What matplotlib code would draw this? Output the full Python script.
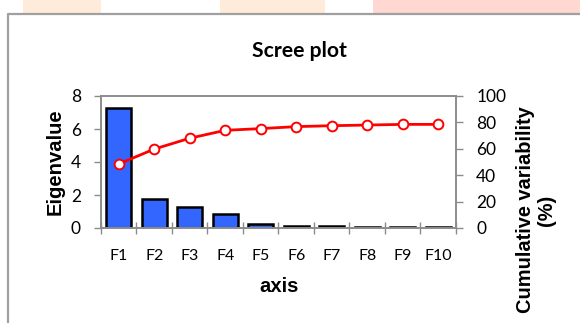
import matplotlib
matplotlib.use("Agg")
import matplotlib.pyplot as plt
from matplotlib.patches import Rectangle
from matplotlib.lines import Line2D
import numpy as np

# Principal axes, their eigenvalues and cumulative variability (%)
factors = ["F1", "F2", "F3", "F4", "F5", "F6", "F7", "F8", "F9", "F10"]
eigenvalues = [7.3, 1.75, 1.27, 0.87, 0.22, 0.15, 0.12, 0.08, 0.05, 0.04]
cumulative = [48.5, 59.8, 68.0, 74.0, 75.3, 76.8, 77.5, 78.0, 78.5, 78.5]
left_ticks = [0, 2, 4, 6, 8]
right_ticks = [0, 20, 40, 60, 80, 100]

W, H = 580, 323
fig = plt.figure(figsize=(W / 100, H / 100), dpi=100)
fig.patch.set_facecolor("white")

# page strip above the chart frame
for x0, x1, col in [(23, 101, "#FFEBD9"), (220, 325, "#FFEBD9"), (373, 580, "#FFD9D1")]:
    fig.patches.append(Rectangle((x0 / W, 1 - 13 / H), (x1 - x0) / W, 13 / H,
                                 transform=fig.transFigure, color=col, lw=0, zorder=0))
# chart frame
fig.lines.append(Line2D([8 / W, 8 / W, 1.0], [0, 1 - 13.5 / H, 1 - 13.5 / H],
                        transform=fig.transFigure, color="#A0A0A0", lw=1.6))

tick_font = "Lato"
label_font = "Liberation Sans"
grey = "#8C8C8C"

ax = fig.add_axes([101 / W, 1 - 228 / H, (456 - 101) / W, (228 - 96) / H])
x = np.arange(len(factors))
ax.bar(x, eigenvalues, width=0.7, color="#3366FF", edgecolor="black", linewidth=1.8, zorder=2)
ax.set_xlim(-0.5, len(factors) - 0.5)
ax.set_ylim(0, 8)
ax.set_yticks(left_ticks)
ax.set_xticks(np.arange(-0.5, len(factors), 1.0))
ax.set_xticklabels([])
ax.set_xticks(x, minor=True)
ax.set_xticklabels(factors, minor=True, fontfamily=tick_font, fontsize=11.5)
ax.tick_params(axis="x", which="minor", length=0, pad=15)
ax.tick_params(axis="x", which="major", direction="inout", length=9, color=grey, width=1)
ax.tick_params(axis="y", direction="out", length=5, color=grey, width=1, pad=9.5)
for lbl in ax.get_yticklabels():
    lbl.set_fontfamily(tick_font)
    lbl.set_fontsize(12.5)
for s in ax.spines.values():
    s.set_color(grey)
    s.set_linewidth(1.2)

ax2 = ax.twinx()
ax2.plot(x, cumulative, color="#FF0000", lw=2, marker="o", markersize=7,
         markerfacecolor="white", markeredgecolor="#FF0000", markeredgewidth=1.4, zorder=3)
ax2.set_ylim(0, 100)
ax2.set_yticks(right_ticks)
ax2.tick_params(axis="y", direction="out", length=5, color=grey, width=1, pad=9.5)
for lbl in ax2.get_yticklabels():
    lbl.set_fontfamily(tick_font)
    lbl.set_fontsize(12.5)
for s in ax2.spines.values():
    s.set_color(grey)
    s.set_linewidth(1.2)

fig.text(299 / W, 1 - 57 / H, "Scree plot", ha="center", va="baseline",
         fontfamily=tick_font, fontweight="bold", fontsize=15.2)
fig.text(55 / W, 1 - 162 / H, "Eigenvalue", ha="center", va="center", rotation=90,
         fontfamily=label_font, fontweight="bold", fontsize=14.6)
fig.text(279 / W, 1 - 292 / H, "axis", ha="center", va="baseline",
         fontfamily=label_font, fontweight="bold", fontsize=14.6)
fig.text(536 / W, 1 - 210 / H, "Cumulative variability\n(%)", ha="center", va="center",
         rotation=90, multialignment="center", linespacing=1.1,
         fontfamily=label_font, fontweight="bold", fontsize=14.4)

fig.savefig("out.png", dpi=100)
